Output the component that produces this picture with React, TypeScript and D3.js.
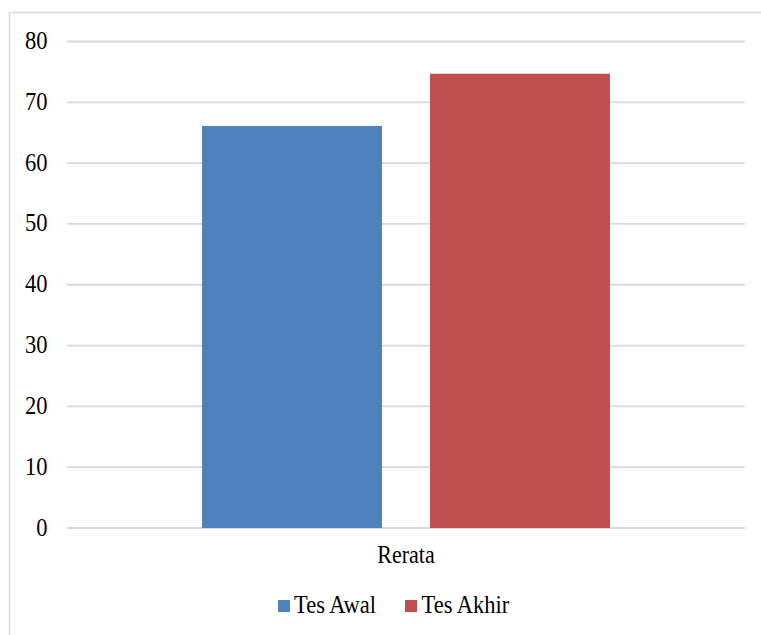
import React from "react";
import * as d3 from "d3";

const categories = ["Rerata"];
const seriesNames = ["Tes Awal", "Tes Akhir"];
const tesAwal = [66.1];
const tesAkhir = [74.7];
const yTicks = [0, 10, 20, 30, 40, 50, 60, 70, 80];
const colors = ["#4f81bd", "#c0504d"];

const W = 761;
const H = 635;
const plotLeft = 67;
const plotRight = 745;
const plotTop = 41.5;
const plotBottom = 528;
const FONT = '"Liberation Serif", "Times New Roman", serif';
const SY = 1.13;

export default function App() {
  const y = d3.scaleLinear().domain([0, 80]).range([plotBottom, plotTop]);
  const x0 = d3
    .scaleBand<string>()
    .domain(categories)
    .range([plotLeft, plotRight])
    .paddingInner(0)
    .paddingOuter(0.331);
  const x1 = d3
    .scaleBand<string>()
    .domain(seriesNames)
    .range([0, x0.bandwidth()])
    .paddingInner(0.2105)
    .paddingOuter(0);
  const seriesValues = [tesAwal, tesAkhir];

  const stretchedText = (
    key: string,
    tx: number,
    ty: number,
    text: string,
    anchor: "start" | "middle" | "end",
    size: number
  ) => (
    <text
      key={key}
      transform={`translate(${tx},${ty}) scale(1,${SY})`}
      textAnchor={anchor}
      style={{ fontFamily: FONT, fontSize: size + "px" }}
      fill="#000"
    >
      {text}
    </text>
  );

  const legendItems = [
    { name: seriesNames[0], sq: 278, tx: 294 },
    { name: seriesNames[1], sq: 405, tx: 421.5 },
  ];

  return (
    <svg
      width={W}
      height={H}
      style={{ position: "absolute", left: 0, top: 0, background: "#fff", fontFamily: FONT }}
    >
      <rect x={0} y={0} width={W} height={H} fill="#fff" />
      <rect
        x={9.5}
        y={12.5}
        width={W + 10}
        height={H + 10}
        fill="none"
        stroke="#d9d9d9"
        strokeWidth={1.5}
      />
      {yTicks.map((t) => (
        <line
          key={"g" + t}
          x1={plotLeft}
          x2={plotRight}
          y1={y(t)}
          y2={y(t)}
          stroke="#d9d9d9"
          strokeWidth={1.8}
        />
      ))}
      {categories.map((c, ci) => (
        <g key={c} transform={`translate(${x0(c)},0)`}>
          {seriesNames.map((s, si) => (
            <rect
              key={s}
              x={x1(s)}
              y={y(seriesValues[si][ci])}
              width={x1.bandwidth()}
              height={y(0) - y(seriesValues[si][ci])}
              fill={colors[si]}
            />
          ))}
        </g>
      ))}
      {yTicks.map((t) =>
        stretchedText("t" + t, 47.5, y(t) + 7.5, String(t), "end", 22.5)
      )}
      {categories.map((c) =>
        stretchedText("c" + c, (x0(c) || 0) + x0.bandwidth() / 2, 563, c, "middle", 22)
      )}
      {legendItems.map((it, i) => (
        <g key={it.name}>
          <rect x={it.sq} y={600} width={12} height={12} fill={colors[i]} />
          {stretchedText("l" + i, it.tx, 613, it.name, "start", 22.5)}
        </g>
      ))}
    </svg>
  );
}
